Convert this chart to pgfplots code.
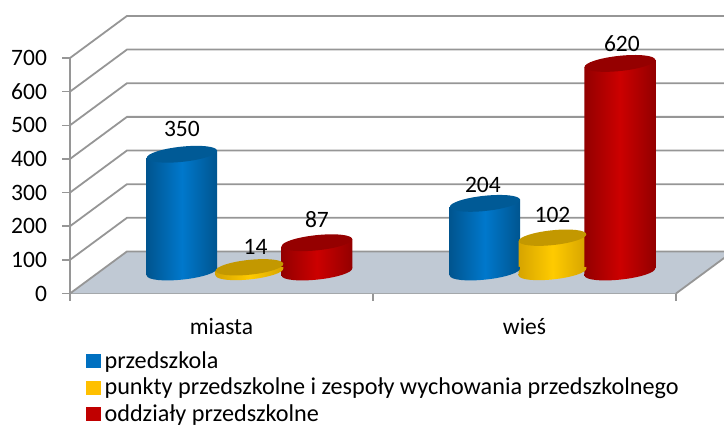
\documentclass[border=0pt]{standalone}
\usepackage{fontspec}
\setmainfont{Carlito}
\usepackage{pgfplots}
\pgfplotsset{compat=1.18}
\definecolor{wallgray}{HTML}{969696}
\definecolor{floorc}{HTML}{C0C9D4}
\definecolor{bEdge}{HTML}{00558F}\definecolor{bMid}{HTML}{0078CC}\definecolor{bTop}{HTML}{005A96}\definecolor{bLeg}{HTML}{0070C0}
\definecolor{gEdge}{HTML}{D6A400}\definecolor{gMid}{HTML}{FFCB00}\definecolor{gTop}{HTML}{C39800}\definecolor{gLeg}{HTML}{FFC000}
\definecolor{rEdge}{HTML}{930000}\definecolor{rMid}{HTML}{CC0000}\definecolor{rTop}{HTML}{950000}\definecolor{rLeg}{HTML}{C00000}
\newcommand\lfont{\fontsize{23.5}{28}\selectfont}
\newcommand\legfont{\fontsize{24.2}{24.2}\selectfont}
% tilted ellipse marks (1 pt = 1 px of the reference)
\newcommand\defcyl[3]{%
  \pgfdeclareplotmark{#1top}{%
    \pgfmathsetmacro\ax{#2*.9945}\pgfmathsetmacro\ay{#2*.1045}%
    \pgfmathsetmacro\bx{-#3*.1045}\pgfmathsetmacro\by{#3*.9945}%
    \pgfsetfillcolor{#1Top}%
    \pgfpathellipse{\pgfpointorigin}{\pgfpoint{\ax pt}{\ay pt}}{\pgfpoint{\bx pt}{\by pt}}%
    \pgfusepathqfill}%
  \pgfdeclareplotmark{#1bot}{%
    \pgfmathsetmacro\ax{#2*.9945}\pgfmathsetmacro\ay{#2*.1045}%
    \pgfmathsetmacro\bx{-#3*.1045}\pgfmathsetmacro\by{#3*.9945}%
    \shade[draw=none,left color=#1Edge,right color=#1Edge,middle color=#1Mid]
      ({-\ax*1pt},{-\ay*1pt})
      .. controls ({(-\ax-.5523*\bx)*1pt},{(-\ay-.5523*\by)*1pt}) and ({(-\bx-.5523*\ax)*1pt},{(-\by-.5523*\ay)*1pt}) .. ({-\bx*1pt},{-\by*1pt})
      .. controls ({(-\bx+.5523*\ax)*1pt},{(-\by+.5523*\ay)*1pt}) and ({(\ax-.5523*\bx)*1pt},{(\ay-.5523*\by)*1pt}) .. ({\ax*1pt},{\ay*1pt})
      -- ({\ax*1pt},{(\ay+1.5)*1pt}) -- ({-\ax*1pt},{(-\ay+1.5)*1pt}) -- cycle;}%
}
\defcyl{b}{35.3}{7.6}
\defcyl{g}{34}{7.4}
\defcyl{r}{35.5}{7.6}
% #1 prefix #2 x #3 half width in x units #4 value #5 label xshift #6 label yshift
\newcommand\cyl[6]{%
  \addplot[forget plot,only marks,mark=#1bot] coordinates {(#2,0)};
  \addplot[forget plot,draw=none,mark=none,left color=#1Edge,right color=#1Edge,middle color=#1Mid]
     coordinates {({#2-#3},-11) ({#2-#3},{#4-11}) ({#2+#3},{#4+11}) ({#2+#3},11)};
  \addplot[forget plot,only marks,mark=#1top,point meta=y,nodes near coords,
     every node near coord/.style={anchor=center,xshift=#5pt,yshift=#6pt,text=black,font=\lfont,
     /pgf/number format/assume math mode=true,/pgf/number format/.cd,fixed,precision=0,set thousands separator={}}]
     coordinates {(#2,#4)};
}
\begin{document}
\begin{tikzpicture}[x=1pt,y=1pt]
\clip (0,0) rectangle (724,426);
\begin{axis}[
  at={(70pt,132.5pt)},anchor=origin,
  scale only axis,width=606pt,height=235.5pt,
  xmin=0,xmax=2,ymin=0,ymax=700,clip=false,
  axis line style={draw=wallgray,line width=1.8pt},
  axis x line*=bottom,axis y line*=left,
  every axis x line/.append style={-},every axis y line/.append style={-},
  xtick={0,1,2},xticklabels={},
  extra x ticks={0.5,1.5},extra x tick labels={miasta,wieś},
  extra x tick style={major tick length=0pt,tick label style={yshift=-21pt}},
  ytick={0,100,...,700},
  tick align=outside,major tick length=7.5pt,
  tick style={draw=wallgray,line width=1.5pt},
  tick label style={font=\lfont,text=black},
  yticklabel style={/pgf/number format/assume math mode=true,xshift=-12pt},
  legend cell align=left,
  legend style={draw=none,fill=none,at={(0.027,-0.247)},anchor=north west,inner sep=0pt,outer sep=0pt,
     row sep=8.2pt,font=\legfont,
     nodes={inner sep=0pt,outer sep=0pt}},
]
\addlegendimage{legend image code/.code={\fill[bLeg] (0pt,-6.5pt) rectangle (13.5pt,6.5pt);\path[draw=none] (0pt,0pt) -- (18pt,0pt);}}
\addlegendimage{legend image code/.code={\fill[gLeg] (0pt,-6.5pt) rectangle (13.5pt,6.5pt);\path[draw=none] (0pt,0pt) -- (18pt,0pt);}}
\addlegendimage{legend image code/.code={\fill[rLeg] (0pt,-6.5pt) rectangle (13.5pt,6.5pt);\path[draw=none] (0pt,0pt) -- (18pt,0pt);}}
\addlegendentry{przedszkola}
\addlegendentry{punkty przedszkolne i zespoły wychowania przedszkolnego}
\addlegendentry{oddziały przedszkolne}
% floor
\addplot[forget plot,fill=floorc,draw=none,mark=none] coordinates {(0,0) (0.188,125) (2.188,125) (2,0)};
% walls
\addplot[forget plot,draw=wallgray,line width=1.8pt,mark=none] coordinates {(2,0) (2.188,125)};
\addplot[forget plot,draw=wallgray,line width=1.8pt,mark=none] coordinates {(0,0) (0.188,125) (2.188,125)};
\addplot[forget plot,draw=wallgray,line width=1.8pt,mark=none] coordinates {(0,100) (0.188,225) (2.188,225)};
\addplot[forget plot,draw=wallgray,line width=1.8pt,mark=none] coordinates {(0,200) (0.188,325) (2.188,325)};
\addplot[forget plot,draw=wallgray,line width=1.8pt,mark=none] coordinates {(0,300) (0.188,425) (2.188,425)};
\addplot[forget plot,draw=wallgray,line width=1.8pt,mark=none] coordinates {(0,400) (0.188,525) (2.188,525)};
\addplot[forget plot,draw=wallgray,line width=1.8pt,mark=none] coordinates {(0,500) (0.188,625) (2.188,625)};
\addplot[forget plot,draw=wallgray,line width=1.8pt,mark=none] coordinates {(0,600) (0.188,725) (2.188,725)};
\addplot[forget plot,draw=wallgray,line width=1.8pt,mark=none] coordinates {(0,700) (0.188,825) (2.188,825)};
\end{axis}
\begin{axis}[
  at={(98pt,154pt)},anchor=origin,
  scale only axis,width=606pt,height=235.5pt,
  xmin=0,xmax=2,ymin=0,ymax=700,clip=false,hide axis,
]
\cyl{b}{0.277}{0.1165}{350}{0}{25}
\cyl{g}{0.5}{0.112}{14}{6}{20}
\cyl{r}{0.7225}{0.117}{87}{0}{23}
\cyl{b}{1.277}{0.1165}{204}{-2}{18}
\cyl{g}{1.5}{0.112}{102}{0}{23}
\cyl{r}{1.7225}{0.117}{620}{2}{20}
\end{axis}
\end{tikzpicture}
\end{document}
